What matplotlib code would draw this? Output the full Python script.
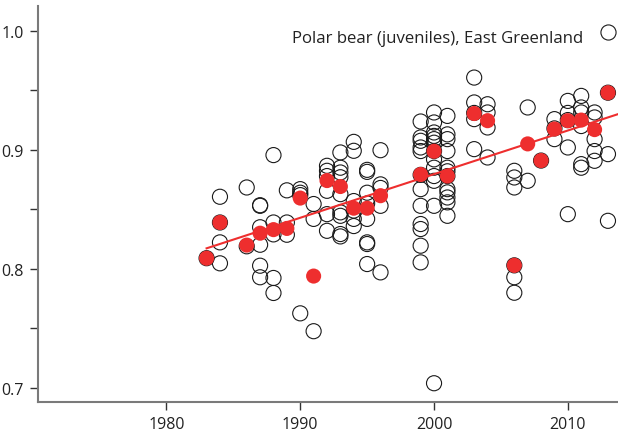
import matplotlib
matplotlib.use("Agg")
import matplotlib.pyplot as plt
from matplotlib.lines import Line2D

plt.rcParams['font.family'] = ['Open Sans', 'DejaVu Sans']

# individual measurements (open circles), keyed by year
individuals = {
    1983: [0.809],
    1984: [0.8606, 0.839, 0.8223, 0.8047],
    1986: [0.8684, 0.819],
    1987: [0.853, 0.8535, 0.835, 0.8203, 0.8027, 0.793],
    1988: [0.8956, 0.839, 0.829, 0.7924, 0.7798],
    1989: [0.866, 0.839, 0.8287],
    1990: [0.867, 0.864, 0.862, 0.7627],
    1991: [0.8545, 0.842, 0.7477],
    1992: [0.8866, 0.8824, 0.878, 0.8656, 0.846, 0.832],
    1993: [0.8978, 0.885, 0.881, 0.877, 0.8628, 0.8475, 0.8446, 0.8293, 0.8273],
    1994: [0.9067, 0.8992, 0.857, 0.849, 0.842, 0.836],
    1995: [0.8832, 0.8815, 0.864, 0.855, 0.842, 0.8223, 0.8209, 0.8041],
    1996: [0.8997, 0.871, 0.868, 0.853, 0.7971],
    1999: [0.9238, 0.9104, 0.9076, 0.902, 0.899, 0.879, 0.867, 0.853,
           0.8377, 0.8335, 0.8195, 0.8055],
    2000: [0.9314, 0.923, 0.9146, 0.9117, 0.909, 0.906, 0.899, 0.892,
           0.885, 0.878, 0.874, 0.853, 0.704],
    2001: [0.9285, 0.913, 0.909, 0.899, 0.885, 0.882, 0.878, 0.867,
           0.8643, 0.86, 0.8559, 0.8446],
    2003: [0.9607, 0.9398, 0.931, 0.9258, 0.9006],
    2004: [0.9383, 0.9314, 0.9188, 0.8936],
    2006: [0.8824, 0.8768, 0.8684, 0.803, 0.793, 0.780],
    2007: [0.9356, 0.874],
    2008: [0.891],
    2009: [0.9258, 0.918, 0.909],
    2010: [0.9411, 0.931, 0.925, 0.902, 0.846],
    2011: [0.9453, 0.9356, 0.9314, 0.920, 0.888, 0.885],
    2012: [0.9314, 0.9272, 0.909, 0.899, 0.8908],
    2013: [0.948, 0.8964, 0.8404],
}

# yearly means (red filled circles)
mean_years = [1983, 1984, 1986, 1987, 1988, 1989, 1990, 1991, 1992, 1993,
              1994, 1995, 1996, 1999, 2000, 2001, 2003, 2004, 2006, 2007,
              2008, 2009, 2010, 2011, 2012, 2013]
mean_values = [0.809, 0.839, 0.820, 0.830, 0.833, 0.834, 0.8595, 0.794,
               0.8742, 0.8692, 0.851, 0.851, 0.8615, 0.8793, 0.8988, 0.878,
               0.9305, 0.9245, 0.803, 0.905, 0.891, 0.9175, 0.9245, 0.925,
               0.917, 0.948]

# trend line
trend_years = [1983, 2014]
trend_values = [0.8173, 0.9309]

legend_label = "Polar bear (juveniles), East Greenland"
legend_key_pos = (2013, 0.9975)   # where the key circle sits, in data units
x_ticks = [1980, 1990, 2000, 2010]
y_major = [0.7, 0.8, 0.9, 1.0]
y_minor = [0.75, 0.85, 0.95]

red = '#EE2E2E'
fs = 11.5

fig = plt.figure(figsize=(6.18, 4.35), dpi=100)
ax = fig.add_axes([0.0615, 0.0729, 0.9385, 0.9110])

xs, ys = [], []
for yr, vals in individuals.items():
    for v in vals:
        xs.append(yr)
        ys.append(v)
ax.scatter(xs, ys, s=118, facecolors='none', edgecolors='#1a1a1a',
           linewidths=0.8, zorder=2)
ax.plot(trend_years, trend_values, color=red, lw=1.5, zorder=3)
ax.scatter(mean_years, mean_values, s=118, color=red, edgecolors='none',
           zorder=4)

ax.set_xlim(1970.4, 2013.75)
ax.set_ylim(0.688, 1.0208)
ax.set_xticks(x_ticks)
ax.set_xticklabels([str(t) for t in x_ticks])
ax.set_yticks(y_major)
ax.set_yticklabels([f"{t:.1f}" for t in y_major])
ax.set_yticks(y_minor, minor=True)

for s in ['top', 'right']:
    ax.spines[s].set_visible(False)
for s in ['left', 'bottom']:
    ax.spines[s].set_color('#7a7a7a')
    ax.spines[s].set_linewidth(1.5)

ax.tick_params(axis='both', which='both', direction='out', length=6,
               width=1.0, color='#333333', labelsize=fs,
               labelcolor='#222222')
ax.tick_params(axis='y', pad=4)
ax.tick_params(axis='x', pad=4)

# key: label text plus open-circle symbol
ax.text(0.9397, 0.9092, legend_label, transform=ax.transAxes, ha='right',
        va='baseline', fontsize=12.1, color='#222222')
handle = Line2D([], [], marker='o', linestyle='none', markersize=10.9,
                markerfacecolor='none', markeredgecolor='#1a1a1a',
                markeredgewidth=0.8)
ax.legend([handle], [''], loc='center', frameon=False, fontsize=fs,
          handlelength=1.0, handletextpad=0.0, borderpad=0.0,
          borderaxespad=0.0, bbox_to_anchor=legend_key_pos,
          bbox_transform=ax.transData)

fig.savefig('out.png', dpi=100)
